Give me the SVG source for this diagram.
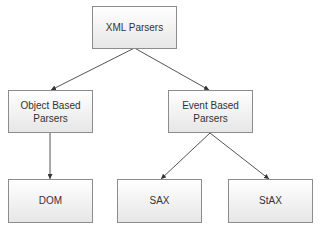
<svg xmlns="http://www.w3.org/2000/svg" width="320" height="228" viewBox="0 0 320 228">
<defs>
<linearGradient id="g" x1="0" y1="0" x2="0" y2="1">
<stop offset="0" stop-color="#ffffff"/>
<stop offset="1" stop-color="#e6e6e6"/>
</linearGradient>
<marker id="ah" viewBox="0 0 10 10" refX="10" refY="5" markerWidth="5" markerHeight="5" orient="auto" markerUnits="userSpaceOnUse">
<path d="M0,0 L10,5 L0,10 z" fill="#333"/>
</marker>
</defs>
<style>
.box{fill:url(#g);stroke:#8c8c8c;stroke-width:1}
.t{font-family:"Liberation Sans",Arial,sans-serif;font-size:10px;fill:#333;text-anchor:middle}
.c{stroke:#404040;stroke-width:0.9;fill:none;marker-end:url(#ah)}
</style>
<rect width="320" height="228" fill="#fff"/>
<g id="connectors">
<line class="c" x1="134.5" y1="48" x2="51" y2="90"/>
<line class="c" x1="134.5" y1="48" x2="209" y2="90"/>
<line class="c" x1="50" y1="133" x2="50" y2="179"/>
<line class="c" x1="210" y1="133" x2="161" y2="179"/>
<line class="c" x1="210" y1="133" x2="269" y2="179"/>
</g>
<g id="xml"><rect class="box" x="92.5" y="6.5" width="84" height="42"/><text class="t" x="134.5" y="30.5">XML Parsers</text></g>
<g id="object"><rect class="box" x="8.5" y="90.5" width="84" height="42"/><text class="t" x="50.5" y="108.5">Object Based</text><text class="t" x="50.5" y="121.5">Parsers</text></g>
<g id="event"><rect class="box" x="168.5" y="90.5" width="84" height="42"/><text class="t" x="210.5" y="108.5">Event Based</text><text class="t" x="210.5" y="121.5">Parsers</text></g>
<g id="dom"><rect class="box" x="8.5" y="179.5" width="84" height="43"/><text class="t" x="50.5" y="204">DOM</text></g>
<g id="sax"><rect class="box" x="117.5" y="179.5" width="84" height="43"/><text class="t" x="159.5" y="204">SAX</text></g>
<g id="stax"><rect class="box" x="228.5" y="179.5" width="84" height="43"/><text class="t" x="270.5" y="204">StAX</text></g>
</svg>
